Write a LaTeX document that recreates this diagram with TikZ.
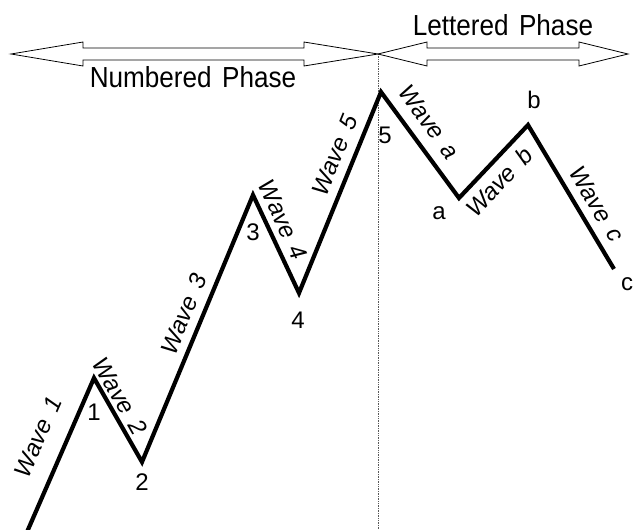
\documentclass[tikz,border=0pt]{standalone}
\usepackage{fontspec}
\setmainfont{Liberation Sans}
\begin{document}
\begin{tikzpicture}[x=1pt,y=-1pt,
  wave/.style={line width=4.2pt,line join=miter,line cap=butt},
  phasearrow/.style={draw=black,line width=0.8pt,fill=white,line join=miter},
  phasetext/.style={font=\fontsize{29}{31}\selectfont,inner sep=0pt,xscale=0.9},
  wavetext/.style={font=\fontsize{24}{26}\selectfont\itshape,inner sep=0pt},
  ptlabel/.style={font=\fontsize{24}{26}\selectfont,inner sep=0pt},
  divider/.style={densely dotted,line width=0.7pt,gray!70!black}]
\useasboundingbox (0,0) rectangle (633,530);
% wave points
\coordinate (p0) at (27,532);
\coordinate (p1) at (94,378);
\coordinate (p2) at (142,462);
\coordinate (p3) at (253,195);
\coordinate (p4) at (299,293);
\coordinate (p5) at (381,92);
\coordinate (pa) at (459,198);
\coordinate (pb) at (528,125);
\coordinate (pc) at (614,269);
\coordinate (top) at (378,54);
\coordinate (bot) at (378,530);
% divider
\draw[divider] (top) -- (bot);
% phase arrows
\draw[phasearrow] (11,54) -- (83,42) -- (83,48) -- (304,48) -- (304,42) -- (top)
  -- (304,66) -- (304,60) -- (83,60) -- (83,66) -- cycle;
\draw[phasearrow] (top) -- (427,42) -- (427,48) -- (579,48) -- (579,42) -- (628,54)
  -- (579,66) -- (579,60) -- (427,60) -- (427,66) -- cycle;
\node[phasetext] (lettered) at (503,25) {Lettered\hspace{0.4em}Phase};
\node[phasetext] (numbered) at (193,77) {Numbered\hspace{0.4em}Phase};
% wave
\draw[wave] (p0) -- (p1) -- (p2) -- (p3) -- (p4) -- (p5) -- (pa) -- (pb) -- (pc);
% point labels
\node[ptlabel] (l1) at (94,412) {1};
\node[ptlabel] (l2) at (142,482) {2};
\node[ptlabel] (l3) at (253,232) {3};
\node[ptlabel] (l4) at (298,320) {4};
\node[ptlabel] (l5) at (385,135) {5};
\node[ptlabel] (la) at (439,213) {a};
\node[ptlabel] (lb) at (534,100) {b};
\node[ptlabel] (lc) at (627,284) {c};
% wave labels
\node[wavetext,rotate=66.2] (w1) at (38,437) {Wave\hspace{0.45em}1};
\node[wavetext,rotate=-60.3] (w2) at (120,396) {Wave\hspace{0.45em}2};
\node[wavetext,rotate=67.4] (w3) at (184,314) {Wave\hspace{0.45em}3};
\node[wavetext,rotate=-64.9] (w4) at (283,220) {Wave\hspace{0.45em}4};
\node[wavetext,rotate=67.8] (w5) at (335,155) {Wave\hspace{0.45em}5};
\node[wavetext,rotate=-53.6] (wa) at (429,122) {Wave\hspace{0.45em}a};
\node[wavetext,rotate=46.6] (wb) at (499,182) {Wave\hspace{0.45em}b};
\node[wavetext,rotate=-59.2] (wc) at (597,204) {Wave\hspace{0.45em}c};
\end{tikzpicture}
\end{document}
